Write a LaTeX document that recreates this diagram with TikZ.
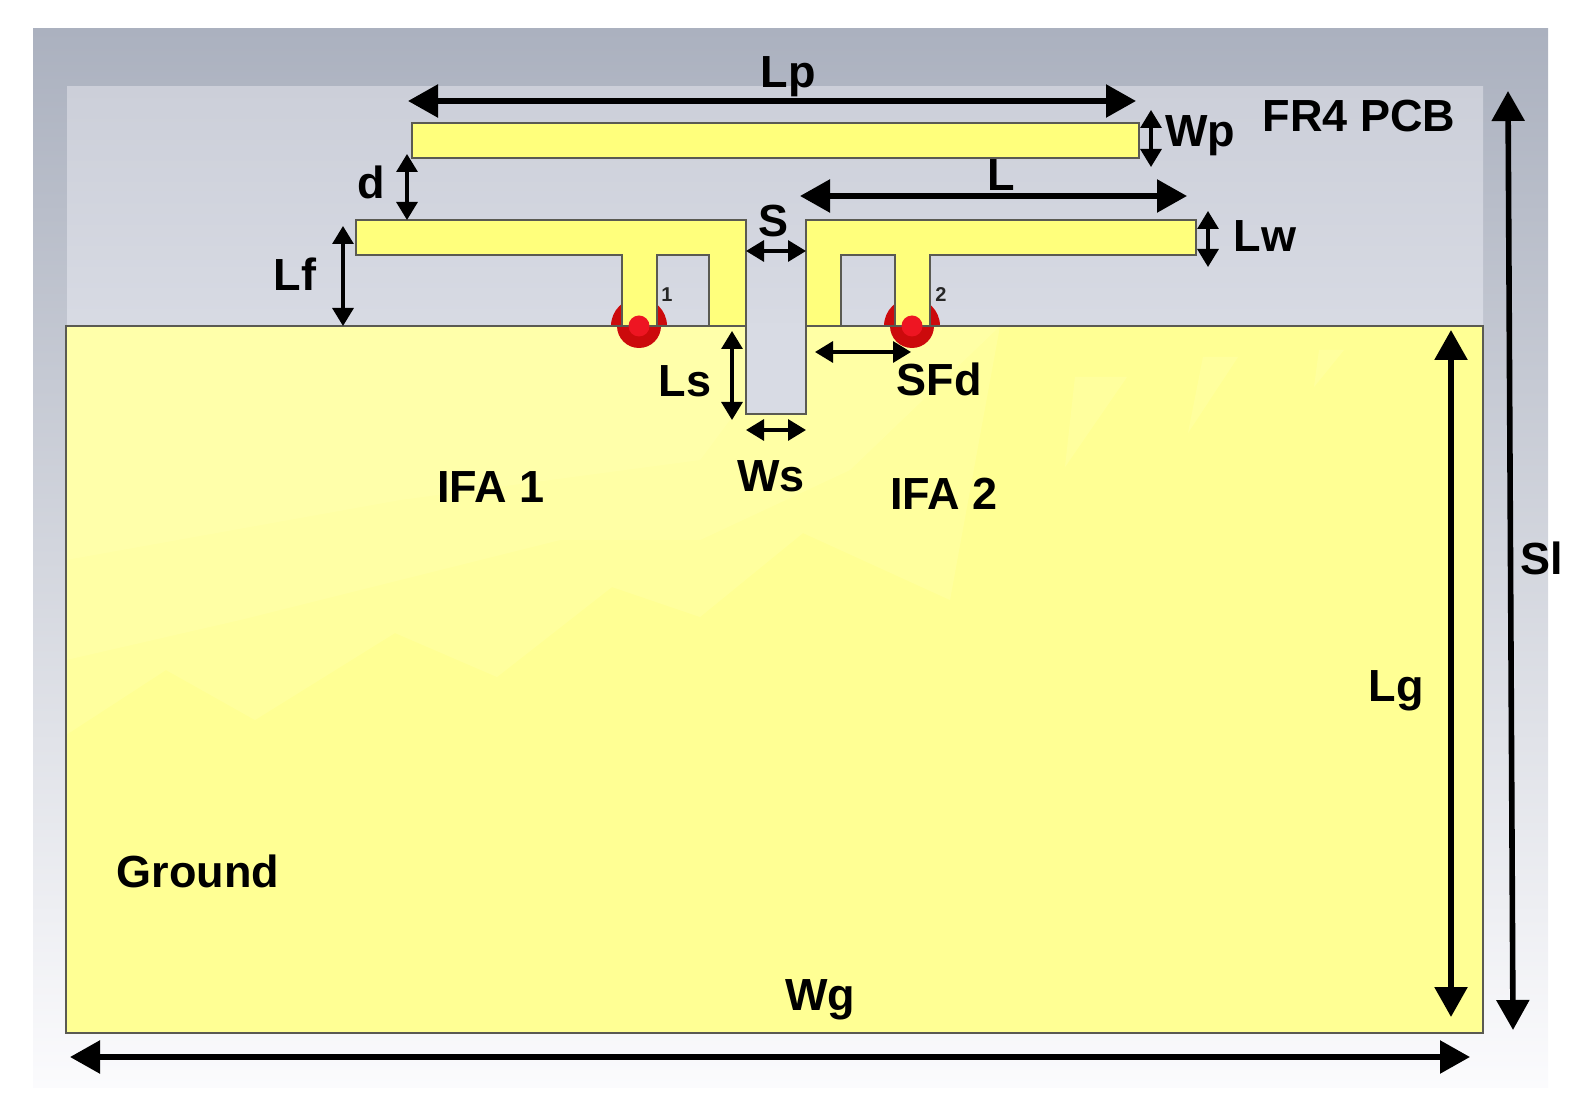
\documentclass[tikz,border=0pt]{standalone}
\usepackage{fontspec}
\setmainfont{Liberation Sans}
\usetikzlibrary{arrows.meta}
\definecolor{SubTop}{HTML}{ABB1BF}
\definecolor{SubBot}{HTML}{FBFBFD}
\definecolor{FrTop}{HTML}{CCCFD9}
\definecolor{FrBot}{HTML}{D8DBE4}
\definecolor{Metal}{HTML}{FFFF7C}
\definecolor{GndBase}{HTML}{FFFF94}
\definecolor{GndLight}{HTML}{FFFFB8}
\definecolor{Edge}{HTML}{5A5A52}
\definecolor{PortDark}{HTML}{CC0A0C}
\definecolor{PortBright}{HTML}{EE1522}
\tikzset{
  metal/.style={draw=Edge,line width=1.3pt,fill=Metal},
  glint/.style={fill=GndLight,opacity=0.3},
  dimbig/.style={line width=2.8pt,{Triangle[length=15pt,width=16pt]}-{Triangle[length=15pt,width=16pt]}},
  dimsmall/.style={line width=1.6pt,{Triangle[length=9pt,width=10.5pt]}-{Triangle[length=9pt,width=10.5pt]}},
  lab/.style={inner sep=0pt,font=\fontsize{22.5}{27}\selectfont\bfseries},
  portlab/.style={inner sep=0pt,font=\fontsize{10}{12}\selectfont\bfseries,text=black!85}
}
\begin{document}
\begin{tikzpicture}[x=0.5pt,y=-0.5pt]
    \useasboundingbox (0,0) rectangle (1590,1106);

    % substrate
    \shade[top color=SubTop,bottom color=SubBot] (33,29) rectangle (1548,1087);
    \shade[top color=FrTop,bottom color=FrBot] (67,87) rectangle (1483,340);

    % port lobes behind the ground
    \foreach \px in {639,912}{
      \fill[PortDark] (\px,326) circle (28);
    }

    % ground with its soft reflection
    \fill[GndBase] (66,326) rectangle (1483,1033);
    \fill[glint] (66,326) -- (1000,326) -- (950,600) -- (803,533) -- (700,617)
      -- (612,587) -- (497,677) -- (395,633) -- (255,720) -- (166,670) -- (66,735) -- cycle;
    \fill[glint] (66,326) -- (1000,326) -- (850,470) -- (700,540) -- (560,540)
      -- (400,580) -- (240,620) -- (66,660) -- cycle;
    \fill[glint] (66,326) -- (800,326) -- (700,460) -- (400,500) -- (66,560) -- cycle;
    \fill[glint] (1075,377) -- (1127,377) -- (1065,467) -- cycle;
    \fill[glint] (1203,357) -- (1238,357) -- (1188,433) -- cycle;
    \fill[glint] (1319,350) -- (1344,350) -- (1314,387) -- cycle;
    \foreach \px in {639,912}{
      \fill[PortDark] (\px,326) circle (22);
    }
    \draw[draw=Edge,line width=1.3pt] (66,326) rectangle (1483,1033);

    % slot
    \draw[metal,fill=FrBot] (746,323) -- (746,414) -- (806,414) -- (806,323);

    % patch and the two antennas
    \draw[metal] (412,123) rectangle (1139,158);
    \draw[metal] (356,220) -- (746,220) -- (746,326) -- (709,326) -- (709,255) -- (657,255)
      -- (657,326) -- (622,326) -- (622,255) -- (356,255) -- cycle;
    \draw[metal] (806,220) -- (1196,220) -- (1196,255) -- (930,255) -- (930,326) -- (895,326)
      -- (895,255) -- (841,255) -- (841,326) -- (806,326) -- cycle;
    \foreach \px in {639,912}{
      \fill[PortBright] (\px,326) circle (10.5);
    }
    \node[portlab] (portone) at (667,295) {1};
    \node[portlab] (porttwo) at (941,295) {2};

    % dimension ends
    \coordinate (LpA) at (408,101);
    \coordinate (LpB) at (1136,101);
    \coordinate (LA)  at (800,196);
    \coordinate (LB)  at (1187,196);
    \coordinate (WpA) at (1151,110);
    \coordinate (WpB) at (1151,167);
    \coordinate (LwA) at (1208,211);
    \coordinate (LwB) at (1208,267);
    \coordinate (dA)  at (407,154);
    \coordinate (dB)  at (407,220);
    \coordinate (LfA) at (343,226);
    \coordinate (LfB) at (343,326);
    \coordinate (SA)  at (746,251);
    \coordinate (SB)  at (806,251);
    \coordinate (LsA) at (732,331);
    \coordinate (LsB) at (732,420);
    \coordinate (WsA) at (746,430);
    \coordinate (WsB) at (806,430);
    \coordinate (SFdA) at (815,352);
    \coordinate (SFdB) at (911,352);
    \coordinate (LgA) at (1451,330);
    \coordinate (LgB) at (1451,1017);
    \coordinate (SlA) at (1508,91);
    \coordinate (SlB) at (1513,1030);
    \coordinate (WgA) at (70,1057);
    \coordinate (WgB) at (1470,1057);

    \foreach \a/\b in {LpA/LpB,LA/LB,LgA/LgB,SlA/SlB,WgA/WgB}{
      \draw[dimbig] (\a) -- (\b);
    }
    \foreach \a/\b in {WpA/WpB,LwA/LwB,dA/dB,LfA/LfB,SA/SB,LsA/LsB,WsA/WsB,SFdA/SFdB}{
      \draw[dimsmall] (\a) -- (\b);
    }

    % labels
    \node[lab] (Lp) at (788,77) {Lp};
    \node[lab] (Wp) at (1200,136) {Wp};
    \node[lab] (FR) at (1359,116) {FR4 PCB};
    \node[lab] (d)  at (371,182) {d};
    \node[lab] (L)  at (1001,175) {L};
    \node[lab] (S)  at (773,221) {S};
    \node[lab] (Lw) at (1265,236) {Lw};
    \node[lab] (Lf) at (295,274) {Lf};
    \node[lab] (Ls) at (685,381) {Ls};
    \node[lab] (SFd) at (939,379) {SFd};
    \node[lab] (Ws) at (771,476) {Ws};
    \node[lab] (IFAone) at (491,487) {IFA 1};
    \node[lab] (IFAtwo) at (944,494) {IFA 2};
    \node[lab] (Lg) at (1396,691) {Lg};
    \node[lab] (Sl) at (1542,558) {Sl};
    \node[lab] (Ground) at (198,871) {Ground};
    \node[lab] (Wg) at (820,1000) {Wg};
  \end{tikzpicture}
\end{document}
